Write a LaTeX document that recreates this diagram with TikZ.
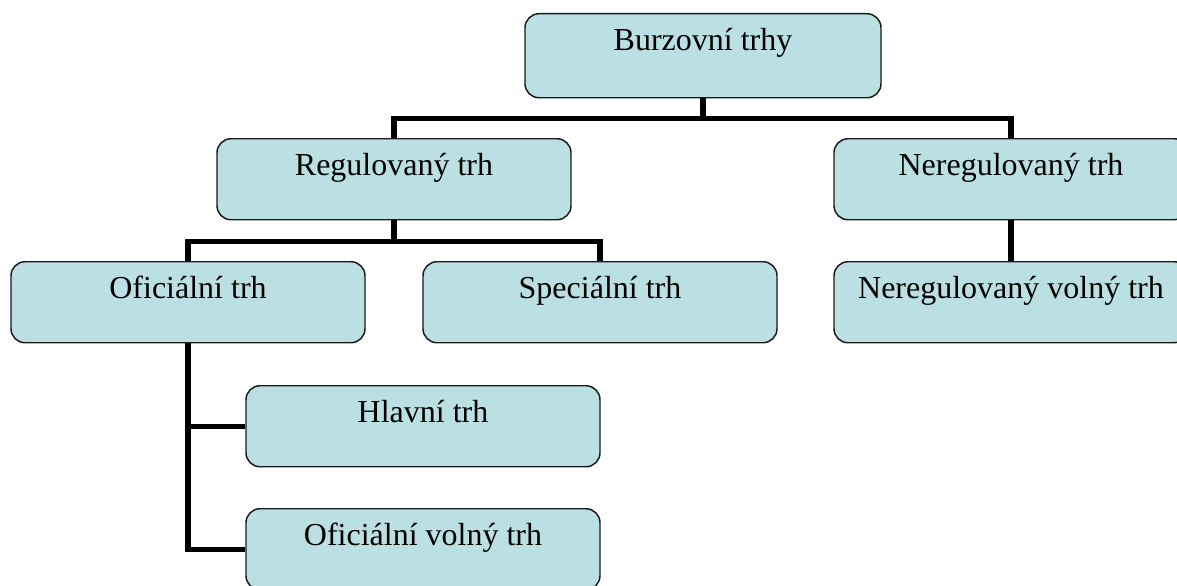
\documentclass[tikz,border=0pt]{standalone}
\usepackage{fontspec}
\setmainfont{Liberation Serif}
\definecolor{boxfill}{HTML}{BBE0E3}
\definecolor{boxline}{HTML}{1A1A1A}
\tikzset{
  mbox/.style={draw=boxline, line width=1.1pt, fill=boxfill, rounded corners=10.5pt,
    rectangle, inner xsep=0pt, inner ysep=0pt, minimum width=265.5pt,
    text height=27.75pt, text depth=33pt, anchor=north,
    font=\fontsize{24}{28}\selectfont},
  conn/.style={line width=4pt, line join=miter, black}
}
\begin{document}
\begin{tikzpicture}[x=0.75pt,y=-0.75pt]
\useasboundingbox (0,0) rectangle (1177,585);
\clip (0,0) rectangle (1177,585);
\node[mbox, minimum width=267pt, text depth=35.25pt] (burz) at (703,13) {Burzovní trhy};
\node[mbox] (reg) at (394,138) {Regulovaný trh};
\node[mbox] (nereg) at (1011,138) {Neregulovaný trh};
\node[mbox] (ofi) at (188,261) {Oficiální trh};
\node[mbox] (spec) at (600,261) {Speciální trh};
\node[mbox] (nvol) at (1011,261) {Neregulovaný volný trh};
\node[mbox] (hlav) at (423,385) {Hlavní trh};
\node[mbox] (ovol) at (423,508) {Oficiální volný trh};
\draw[conn] (burz.south) -- ++(0,20) -| (reg.north);
\draw[conn] (burz.south) -- ++(0,20) -| (nereg.north);
\draw[conn] (reg.south) -- ++(0,21) -| (ofi.north);
\draw[conn] (reg.south) -- ++(0,21) -| (spec.north);
\draw[conn] (nereg.south) -- (nvol.north);
\draw[conn] (ofi.south) |- (hlav.west);
\draw[conn] (ofi.south) |- (ovol.west);
\end{tikzpicture}
\end{document}
